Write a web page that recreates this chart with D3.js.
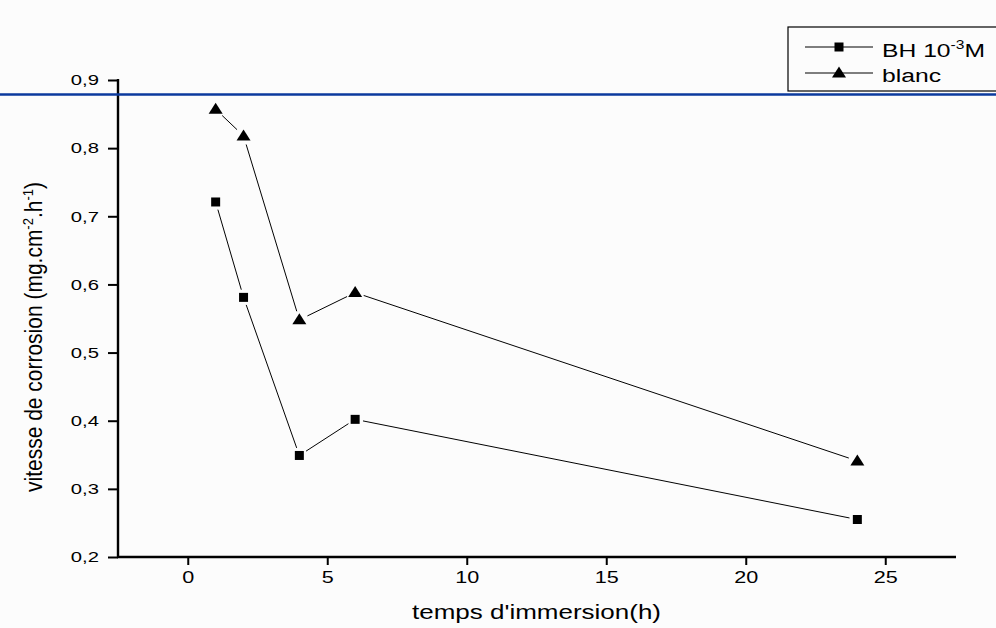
<!DOCTYPE html>
<html>
<head>
<meta charset="utf-8">
<script src="https://cdn.jsdelivr.net/npm/d3@7"></script>
<style>
  body { margin: 0; background: #fcfcfc; }
  svg { display: block; font-family: "Liberation Sans", Arial, sans-serif; }
</style>
</head>
<body>
<div id="chart"></div>
<script>
// immersion time (h) and corrosion rate
const temps = [1, 2, 4, 6, 24];
const bh = [0.721, 0.581, 0.349, 0.402, 0.255];
const blanc = [0.857, 0.818, 0.548, 0.588, 0.341];
const xTicks = [0, 5, 10, 15, 20, 25];
const yTicks = [0.2, 0.3, 0.4, 0.5, 0.6, 0.7, 0.8, 0.9];

const W = 996, H = 628;
const margin = {top: 80, right: 41, bottom: 71, left: 118};
const width = W - margin.left - margin.right,
    height = H - margin.top - margin.bottom;
const stretch = 1.35; // text in the picture is wider than normal

const svg = d3.select("#chart").append("svg")
    .attr("width", W)
    .attr("height", H);

svg.append("rect").attr("width", W).attr("height", H).attr("fill", "#fcfcfc");

const g = svg.append("g")
    .attr("transform", "translate(" + margin.left + "," + margin.top + ")");

const x = d3.scaleLinear().domain([-2.5, 27.5]).range([0, width]);
const y = d3.scaleLinear().domain([0.2, 0.9]).range([height, 0]);

const fmt = d => d3.format(".1f")(d).replace(".", ",");

function widen(sel) {
  sel.each(function() {
    const t = d3.select(this);
    const tx = +t.attr("x") || 0;
    t.attr("x", 0).attr("transform", "translate(" + tx + ",0) scale(" + stretch + ",1)");
  });
}

// axes
const xAxis = g.append("g").attr("transform", "translate(0," + height + ")");
xAxis.call(d3.axisBottom(x).tickValues(d3.range(-2.5, 27.6, 2.5)).tickSize(5).tickFormat(""));
xAxis.call(d3.axisBottom(x).tickValues(xTicks).tickSize(8).tickPadding(7).tickFormat(d3.format("d")))
    .selectAll("text").style("font-size", "16px").attr("fill", "#000").call(widen);
xAxis.selectAll("path.domain").remove();
xAxis.selectAll("line").attr("stroke", "#000").attr("stroke-width", 2);
xAxis.append("line").attr("x1", -1).attr("x2", width + 1)
    .attr("stroke", "#000").attr("stroke-width", 2.4);

const yAxis = g.append("g");
yAxis.call(d3.axisLeft(y).tickValues(d3.range(0.2, 0.91, 0.05)).tickSize(5).tickFormat(""));
yAxis.call(d3.axisLeft(y).tickValues(yTicks).tickSize(10).tickPadding(9).tickFormat(fmt))
    .selectAll("text").style("font-size", "15px").attr("fill", "#000").call(widen);
yAxis.selectAll("path.domain").remove();
yAxis.selectAll("line").attr("stroke", "#000").attr("stroke-width", 2);
yAxis.append("line").attr("y1", -1).attr("y2", height + 1)
    .attr("stroke", "#000").attr("stroke-width", 2.4);

// axis titles
svg.append("text")
    .attr("transform", "translate(" + (margin.left + x(12.5)) + ",619) scale(1.3,1)")
    .attr("text-anchor", "middle")
    .style("font-size", "20px")
    .text("temps d'immersion(h)");

const yt = svg.append("text")
    .attr("transform", "translate(42,337) scale(1.15,1) rotate(-90)")
    .attr("text-anchor", "middle")
    .style("font-size", "21px");
yt.append("tspan").text("vitesse de corrosion (mg.cm");
yt.append("tspan").attr("dy", -8).style("font-size", "13px").text("-2");
yt.append("tspan").attr("dy", 8).text(".h");
yt.append("tspan").attr("dy", -8).style("font-size", "13px").text("-1");
yt.append("tspan").attr("dy", 8).text(")");

// line segments with small gaps around markers
function drawSeries(vals, gap) {
  const pts = temps.map((t, i) => [x(t), y(vals[i])]);
  const segs = d3.pairs(pts).map(([a, b]) => {
    const dx = b[0] - a[0], dy = b[1] - a[1], L = Math.hypot(dx, dy);
    const ux = dx / L, uy = dy / L;
    return [a[0] + ux * gap, a[1] + uy * gap, b[0] - ux * gap, b[1] - uy * gap];
  });
  g.append("g").selectAll("line")
      .data(segs)
      .enter().append("line")
      .attr("x1", d => d[0]).attr("y1", d => d[1])
      .attr("x2", d => d[2]).attr("y2", d => d[3])
      .attr("stroke", "#000").attr("stroke-width", 1);
  return pts;
}

const sq = drawSeries(bh, 8);
const tr = drawSeries(blanc, 9);

const squareSym = d3.symbol().type(d3.symbolSquare).size(81);
const triPath = "M0,-6.5L7,4.5L-7,4.5Z";

g.selectAll(".sq").data(sq).enter().append("path")
    .attr("class", "sq")
    .attr("d", squareSym)
    .attr("transform", d => "translate(" + d[0] + "," + d[1] + ")")
    .attr("fill", "#000");
g.selectAll(".tr").data(tr).enter().append("path")
    .attr("class", "tr")
    .attr("d", triPath)
    .attr("transform", d => "translate(" + d[0] + "," + d[1] + ")")
    .attr("fill", "#000");

// blue horizontal line
svg.append("line")
    .attr("x1", 0).attr("x2", W)
    .attr("y1", 94.5).attr("y2", 94.5)
    .attr("stroke", "#0b3a9e").attr("stroke-width", 2.5);

// legend
const lg = svg.append("g").attr("transform", "translate(788,27)");
lg.append("rect").attr("width", 230).attr("height", 64)
    .attr("fill", "#fcfcfc").attr("stroke", "#000").attr("stroke-width", 1.2);
lg.append("line").attr("x1", 17).attr("x2", 85).attr("y1", 20).attr("y2", 20).attr("stroke", "#000");
lg.append("path").attr("d", squareSym).attr("transform", "translate(51,20)").attr("fill", "#000");
lg.append("line").attr("x1", 17).attr("x2", 85).attr("y1", 46).attr("y2", 46).attr("stroke", "#000");
lg.append("path").attr("d", triPath).attr("transform", "translate(51,46)").attr("fill", "#000");
const l1 = lg.append("text").attr("transform", "translate(94,30) scale(1.3,1)").style("font-size", "19px");
l1.append("tspan").text("BH 10");
l1.append("tspan").attr("dy", -8).style("font-size", "12px").text("-3");
l1.append("tspan").attr("dy", 8).text("M");
lg.append("text").attr("transform", "translate(94,55) scale(1.3,1)").style("font-size", "19px").text("blanc");
</script>
</body>
</html>
